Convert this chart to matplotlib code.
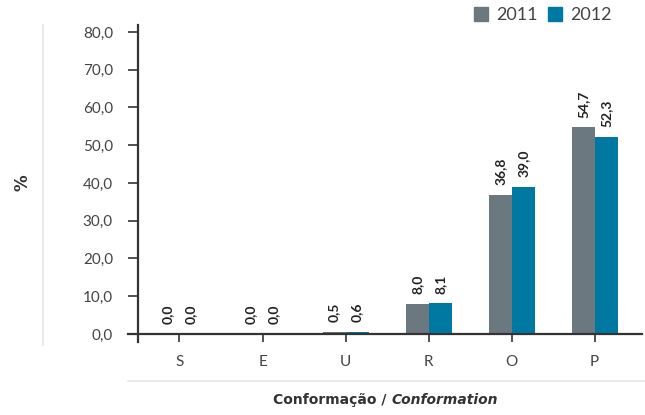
import matplotlib
matplotlib.use("Agg")
import matplotlib.pyplot as plt
import numpy as np
from matplotlib.lines import Line2D
from matplotlib.patches import Rectangle

categories = ["S", "E", "U", "R", "O", "P"]
series_names = ["2011", "2012"]
values_2011 = [0.0, 0.0, 0.5, 8.0, 36.8, 54.7]
values_2012 = [0.0, 0.0, 0.6, 8.1, 39.0, 52.3]
yticks = [0, 10, 20, 30, 40, 50, 60, 70, 80]
ytick_labels = ["0,0", "10,0", "20,0", "30,0", "40,0", "50,0", "60,0", "70,0", "80,0"]

plt.rcParams['font.family'] = ['Lato', 'DejaVu Sans']
W, H = 645, 415
fig = plt.figure(figsize=(W / 100, H / 100), dpi=100)
ax = fig.add_axes([128 / W, 1 - 342 / H, (642 - 128) / W, (342 - 25) / H])

c11 = "#6b7880"
c12 = "#0079a2"
dark = "#333333"
x = np.arange(len(categories))
bw = 0.277
b1 = ax.bar(x - bw / 2, values_2011, bw, color=c11, label=series_names[0], zorder=2)
b2 = ax.bar(x + bw / 2, values_2012, bw, color=c12, label=series_names[1], zorder=2)

def fmt(v):
    return f"{v:.1f}".replace(".", ",")

for bars, vals in ((b1, values_2011), (b2, values_2012)):
    for r, v in zip(bars, vals):
        ax.annotate(fmt(v), (r.get_x() + r.get_width() / 2, v), xytext=(0, 7),
                    textcoords="offset points", rotation=90, ha="center", va="bottom",
                    fontsize=10, fontweight="bold", color="#222222")

ax.set_xlim(-0.62, 5.57)
ax.set_ylim(-2.12, 81.85)
ax.set_yticks(yticks)
ax.set_yticklabels(ytick_labels)
ax.set_xticks(x)
ax.set_xticklabels(categories)

for s in ("top", "right"):
    ax.spines[s].set_visible(False)
ax.spines["left"].set_position(("data", -0.5))
ax.spines["bottom"].set_position(("data", 0))
for s in ("left", "bottom"):
    ax.spines[s].set_linewidth(1.6)
    ax.spines[s].set_color(dark)
    ax.spines[s].set_zorder(3)

ax.tick_params(axis="y", direction="out", length=7.5, width=1.2, color=dark,
               pad=10.5, labelsize=11, labelcolor="#444444")
ax.tick_params(axis="x", direction="out", length=5.8, width=1.2, color=dark,
               pad=9.5, labelsize=11, labelcolor="#444444")
ax.patch.set_visible(False)

# decorative light lines
fig.add_artist(Line2D([128 / W, 1.0], [1 - 381 / H, 1 - 381 / H], color="#e6e6e6", lw=1.2))
fig.add_artist(Line2D([43 / W, 43 / W], [1 - 345 / H, 1 - 25 / H], color="#e6e6e6", lw=1.2))

fig.text(22 / W, 1 - 183 / H, "%", rotation=90, ha="center", va="center",
         fontsize=12, fontweight="bold", color="#333333", family="DejaVu Sans")

fig.text(391 / W, 1 - 400 / H, "Conformação / ", ha="right", va="center",
         fontsize=10, fontweight="bold", color="#333333", family="DejaVu Sans")
fig.text(391 / W, 1 - 400 / H, "Conformation", ha="left", va="center",
         fontsize=10, fontweight="bold", style="italic", color="#333333", family="DejaVu Sans")

# legend (manual placement)
for name, col, sx in ((series_names[0], c11, 474), (series_names[1], c12, 548)):
    fig.add_artist(Rectangle((sx / W, 1 - 21 / H), 14 / W, 14 / H, color=col,
                             transform=fig.transFigure))
    fig.text((sx + 22) / W, 1 - 14.5 / H, name, ha="left", va="center",
             fontsize=13, color="#444444")

fig.savefig("out.png", dpi=100)
